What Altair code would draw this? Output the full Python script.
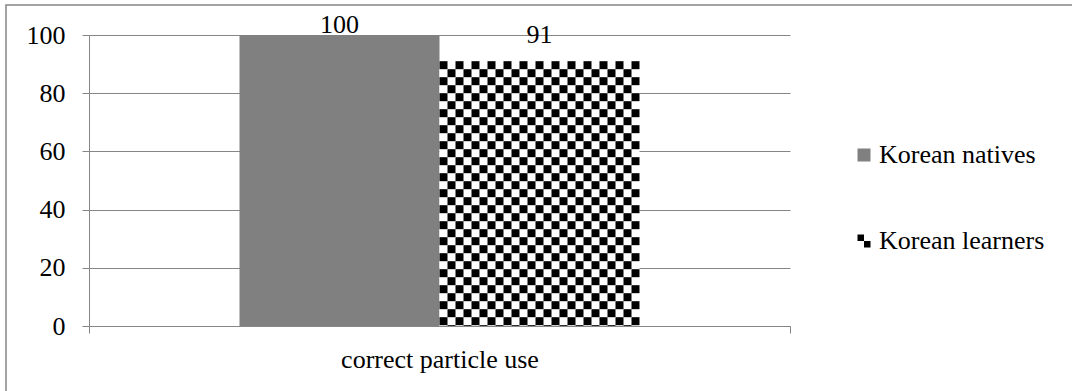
import altair as alt
import pandas as pd

# ---- data -----------------------------------------------------------------
categories = ["correct particle use"]
series = ["Korean natives", "Korean learners"]
values = [100, 91]
y_ticks = [0, 20, 40, 60, 80, 100]

# ---- styling constants ----------------------------------------------------
PLOT_W, PLOT_H = 701, 291
BAR_PX = 200            # width of one bar
CELL_PX = 8             # checkerboard square size
FONT = "Liberation Serif"
FONT_SIZE = 26
GRAY = "#808080"
LINE_GRAY = "#868686"
CHECK_SYMBOL = "M-1,-1H0V0H-1Z M0,0H1V1H0Z"

bars_df = pd.DataFrame({
    "category": categories * len(series),
    "series": series,
    "value": values,
})

# column slots of CELL_PX across the plot, aligned with the bar edges
outer_px = (PLOT_W - len(series) * BAR_PX) / 2
lead_slots = int(outer_px // CELL_PX)
slot_pad = (outer_px - lead_slots * CELL_PX) / CELL_PX
cols_per_bar = BAR_PX // CELL_PX
n_slots = 2 * lead_slots + cols_per_bar * len(series)
series_pad = (PLOT_W / BAR_PX - len(series)) / 2

# checkerboard texture for the learners bar, built from its value
cell_units = CELL_PX * 100 / PLOT_H
cells = []
for s_idx, (s, v) in enumerate(zip(series, values)):
    if s != "Korean learners":
        continue
    k = 0
    while v - k * cell_units > 0:
        top = v - k * cell_units
        bot = max(v - (k + 1) * cell_units, 0)
        for j in range(cols_per_bar):
            if (k + j) % 2 == 0:
                cells.append({
                    "category": categories[0],
                    "col": lead_slots + s_idx * cols_per_bar + j,
                    "y_top": top,
                    "y_bot": bot,
                })
        k += 1
cells_df = pd.DataFrame(cells)

# ---- shared encodings -----------------------------------------------------
x_axis = alt.Axis(
    title=None, labelAngle=0, tickBand="extent", tickSize=7,
    tickColor=LINE_GRAY, domainColor=LINE_GRAY, grid=False,
    labelFont=FONT, labelFontSize=FONT_SIZE, labelColor="black",
    labelPadding=13, labelLimit=0,
)
y_axis = alt.Axis(
    title=None, values=y_ticks, tickSize=7, tickColor=LINE_GRAY,
    domainColor=LINE_GRAY, grid=True, gridColor=LINE_GRAY,
    labelFont=FONT, labelFontSize=FONT_SIZE, labelColor="black",
    labelPadding=17,
)
x_enc = alt.X("category:N", scale=alt.Scale(domain=categories, paddingInner=0, paddingOuter=0), axis=x_axis)
xoff_series = alt.XOffset(
    "series:N",
    scale=alt.Scale(type="band", domain=series, paddingInner=0, paddingOuter=series_pad),
)
y_scale = alt.Scale(domain=[0, 100])

legend = alt.Legend(
    title=None, orient="none", legendX=762, legendY=107, padding=0,
    labelFont=FONT, labelFontSize=FONT_SIZE, labelColor="black",
    symbolSize=169, symbolStrokeWidth=0, labelOffset=2, rowPadding=60,
    labelLimit=0,
)

# outer frame around the whole figure
frame = alt.Chart(pd.DataFrame({"k": [0]})).mark_rect(
    fillOpacity=0, stroke=LINE_GRAY, strokeWidth=1.5
).encode(
    x=alt.value(-83), x2=alt.value(1100), y=alt.value(-30), y2=alt.value(420)
)

# legend source, hidden beneath the bars
keys = alt.Chart(bars_df).transform_calculate(
    mid="datum.value / 2"
).mark_point(filled=True, opacity=1, size=169).encode(
    x=x_enc,
    xOffset=xoff_series,
    y=alt.Y("mid:Q", scale=y_scale, axis=y_axis),
    color=alt.Color("series:N", scale=alt.Scale(domain=series, range=[GRAY, "black"]), legend=legend),
    shape=alt.Shape("series:N", scale=alt.Scale(domain=series, range=["square", CHECK_SYMBOL]), legend=legend),
)

bars = alt.Chart(bars_df).mark_bar().encode(
    x=x_enc,
    xOffset=xoff_series,
    y=alt.Y("value:Q", scale=y_scale, axis=y_axis),
    fill=alt.Fill("series:N", scale=alt.Scale(domain=series, range=[GRAY, "white"]), legend=None),
)

checker = alt.Chart(cells_df).mark_bar(color="black").encode(
    x=x_enc,
    xOffset=alt.XOffset("col:O", scale=alt.Scale(domain=list(range(n_slots)), paddingInner=0, paddingOuter=slot_pad)),
    y=alt.Y("y_top:Q", scale=y_scale, axis=y_axis),
    y2="y_bot:Q",
)

labels = alt.Chart(bars_df).transform_calculate(
    label_y="min(datum.value + 5.56, 100)"
).mark_text(
    font=FONT, fontSize=FONT_SIZE, color="black", baseline="alphabetic", dy=-2
).encode(
    x=x_enc,
    xOffset=xoff_series,
    y=alt.Y("label_y:Q", scale=y_scale, axis=y_axis),
    text="value:Q",
)

chart = alt.layer(frame, keys, bars, checker, labels).resolve_scale(
    xOffset="independent"
).properties(
    width=PLOT_W, height=PLOT_H,
    padding={"left": 89, "top": 35, "right": 1072 - 89 - PLOT_W, "bottom": 391 - 35 - PLOT_H},
    autosize=alt.AutoSizeParams(type="none"),
).configure_view(stroke=None)

chart.save("out.html", embed_options={"renderer": "svg", "actions": False})
